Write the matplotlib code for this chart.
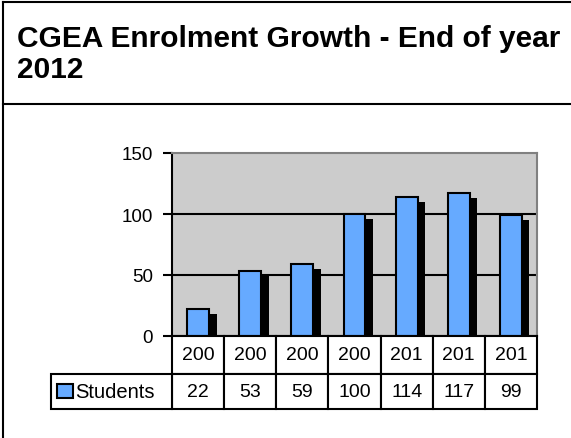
import matplotlib.pyplot as plt
import matplotlib.transforms as mtransforms
from matplotlib.patches import Rectangle
from matplotlib.lines import Line2D

plt.rcParams['font.family'] = ['Liberation Sans', 'DejaVu Sans']

# enrolment data
year_labels = ['200', '200', '200', '200', '201', '201', '201']
students = [22, 53, 59, 100, 114, 117, 99]
series_name = 'Students'
title_lines = ['CGEA Enrolment Growth - End of year', '2012']

W, H = 571, 439
BLUE = '#66AAFF'
BG = '#CCCCCC'
LW = 1.5

fig = plt.figure(figsize=(W / 100, H / 100), dpi=100)

def fx(px):
    return px / W

def fy(py):
    return 1 - py / H

# outer frame and title separator
for line in [([fx(3), fx(3)], [fy(3), fy(H + 5)]),
             ([fx(3), 1.01], [fy(3), fy(3)]),
             ([fx(3), 1.01], [fy(105), fy(105)])]:
    fig.add_artist(Line2D(line[0], line[1], color='black', lw=LW))

for txt, base in zip(title_lines, [47, 78]):
    fig.text(fx(17), fy(base), txt, fontsize=21.5, fontweight='bold', va='baseline', ha='left')

ax_l, ax_r, ax_t, ax_b = 172, 537, 154, 337
ax = fig.add_axes([fx(ax_l), fy(ax_b), fx(ax_r - ax_l), (ax_b - ax_t) / H])
ax.set_facecolor(BG)

x = list(range(len(students)))
bw = 0.42
shadow = mtransforms.offset_copy(ax.transData, fig=fig, x=7.5, y=-5, units='dots')
ax.bar(x, students, width=bw, color='black', lw=0, transform=shadow, zorder=2)
ax.bar(x, students, width=bw, color=BLUE, edgecolor='black', lw=LW, zorder=3)

ax.set_xlim(-0.5, len(students) - 0.5)
ax.set_ylim(0, 150)
ax.set_yticks([0, 50, 100, 150])
ax.set_xticks([])
ax.tick_params(axis='y', length=6.5, width=LW, pad=7, labelsize=13.5)
for yv in [50, 100]:
    ax.axhline(yv, color='black', lw=LW, zorder=1)
ax.spines['left'].set_linewidth(LW)
ax.spines['bottom'].set_linewidth(LW)
for side in ['top', 'right']:
    ax.spines[side].set_color('#808080')
    ax.spines[side].set_linewidth(LW)

# data table under the plot
trans = mtransforms.blended_transform_factory(ax.transData, ax.transAxes)
h_ax = ax_b - ax_t
row1_top, row1_bot = 0, -(375 - ax_b) / h_ax
row2_bot = -(410 - ax_b) / h_ax
for i, (lab, val) in enumerate(zip(year_labels, students)):
    ax.add_patch(Rectangle((i - 0.5, row1_bot), 1, row1_top - row1_bot, transform=trans,
                           fc='white', ec='black', lw=LW, clip_on=False, zorder=4))
    ax.add_patch(Rectangle((i - 0.5, row2_bot), 1, row1_bot - row2_bot, transform=trans,
                           fc='white', ec='black', lw=LW, clip_on=False, zorder=4))
    ax.text(i, (row1_top + row1_bot) / 2, lab, transform=trans, ha='center', va='center',
            fontsize=14, zorder=5)
    ax.text(i, (row1_bot + row2_bot) / 2, str(val), transform=trans, ha='center', va='center',
            fontsize=14, zorder=5)

unit = (ax_r - ax_l) / len(students)
leg_left = -0.5 - (ax_l - 51) / unit
ax.add_patch(Rectangle((leg_left, row2_bot), -0.5 - leg_left, row1_bot - row2_bot, transform=trans,
                       fc='white', ec='black', lw=LW, clip_on=False, zorder=4))
key_x = leg_left + (57 - 51) / unit
ax.add_patch(Rectangle((key_x, -(399 - ax_b) / h_ax), 16 / unit, 14 / h_ax, transform=trans,
                       fc=BLUE, ec='black', lw=LW, clip_on=False, zorder=5))
ax.text(leg_left + (75 - 51) / unit, (row1_bot + row2_bot) / 2, series_name, transform=trans,
        ha='left', va='center', fontsize=14.5, zorder=5)

fig.savefig('out.png', dpi=100)
